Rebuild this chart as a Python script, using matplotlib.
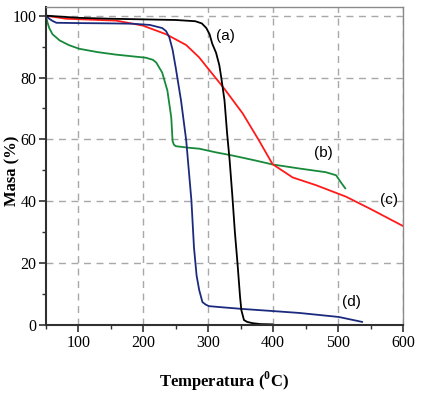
import matplotlib
matplotlib.use('Agg')
import matplotlib.pyplot as plt
from matplotlib.ticker import MultipleLocator

plt.rcParams['mathtext.fontset'] = 'custom'
plt.rcParams['mathtext.rm'] = 'Liberation Serif'
plt.rcParams['mathtext.bf'] = 'Liberation Serif:bold'

# curve (a) - black
temp_a = [50, 100, 150, 200, 250, 280, 290, 297, 302, 306, 312, 317, 320, 325, 329,
          333, 337, 341, 345, 349, 351, 355, 360, 368, 380, 399]
mass_a = [100, 99.3, 99.0, 98.8, 98.6, 98.2, 97.5, 96, 94, 91, 88, 84, 80, 72.6, 62,
          53, 42, 30, 20, 9, 4.8, 1.6, 1.0, 0.6, 0.3, 0.2]

# curve (b) - green
temp_b = [50, 52, 55, 60, 71, 85, 101, 130, 158, 204, 215, 220, 229, 237, 241, 243,
          245, 247, 250, 270, 286, 312, 337, 370, 399, 440, 481, 497, 504, 511]
mass_b = [100, 98, 96, 94, 92, 90.5, 89.3, 88.2, 87.4, 86.4, 85.7, 84.8, 81.6, 75.8, 70, 67,
          59.5, 58.3, 57.8, 57.3, 57, 55.8, 54.8, 53.3, 51.9, 50.6, 49.4, 48.4, 46.2, 44.2]

# curve (c) - red
temp_c = [50, 81, 120, 158, 199, 235, 266, 286, 297, 317, 325, 353, 378, 399, 430,
          466, 512, 550, 600]
mass_c = [100, 99, 98.7, 98.4, 96.8, 94, 90.5, 86.5, 83.6, 78.4, 76.3, 68.4, 59.7, 52, 47.7,
          45.2, 41.5, 37.5, 32]

# curve (d) - blue
temp_d = [50, 55, 60, 66, 100, 150, 183, 210, 229, 235, 240, 245, 250, 258, 266, 274,
          278, 282, 286, 291, 296, 301, 317, 352, 400, 440, 501, 537]
mass_d = [100, 99, 98.3, 97.7, 97.6, 97.5, 97.4, 97, 96, 95, 93, 89, 83, 72.6, 59.7, 40.3,
          25, 16, 11.3, 7.4, 6.6, 6.1, 5.8, 5.2, 4.5, 3.9, 2.6, 1.0]

labels = ['(a)', '(b)', '(c)', '(d)']
label_pos = [(326, 93.5), (477, 55.5), (578, 40.3), (520, 7.4)]

fig = plt.figure(figsize=(4.22, 3.94), dpi=100)
ax = fig.add_axes([46 / 422, 69 / 394, 357 / 422, 318 / 394])

ax.plot(temp_b, mass_b, color='#17893a', lw=1.3)
ax.plot(temp_c, mass_c, color='#ff1a1a', lw=1.3)
ax.plot(temp_d, mass_d, color='#1c2a7e', lw=1.3)
ax.plot(temp_a, mass_a, color='black', lw=1.3)

for txt, (x, y) in zip(labels, label_pos):
    ax.text(x, y, txt, fontsize=11, family='Liberation Sans', ha='center', va='center')

ax.set_xlim(50, 600)
ax.set_ylim(0, 102.8)
ax.xaxis.set_major_locator(MultipleLocator(100))
ax.xaxis.set_minor_locator(MultipleLocator(50))
ax.yaxis.set_major_locator(MultipleLocator(20))
ax.yaxis.set_minor_locator(MultipleLocator(10))

ax.grid(True, which='major', color='#a8a8a8', linestyle=(0, (5, 4)), lw=1.0)
ax.set_axisbelow(True)

for side in ['top', 'right']:
    ax.spines[side].set_color('#8a8a8a')
    ax.spines[side].set_linewidth(1.0)
for side in ['left', 'bottom']:
    ax.spines[side].set_color('#303030')
    ax.spines[side].set_linewidth(1.5)

ax.tick_params(which='major', direction='out', length=5, width=1.2, color='#303030',
               labelsize=11.5, pad=2)
ax.tick_params(which='minor', direction='out', length=3, width=1.0, color='#303030')
for lab in ax.get_xticklabels() + ax.get_yticklabels():
    lab.set_family('Liberation Serif')

ax.set_xlabel(r'Temperatura ($^{\mathbf{0}}$C)', family='Liberation Serif', fontweight='bold',
              fontsize=12)
ax.set_ylabel('Masa (%)', family='Liberation Serif', fontweight='bold', fontsize=12)
ax.xaxis.set_label_coords(0.5, -0.1415)
ax.yaxis.set_label_coords(-0.073, 0.484)

plt.savefig('out.png', dpi=100)
